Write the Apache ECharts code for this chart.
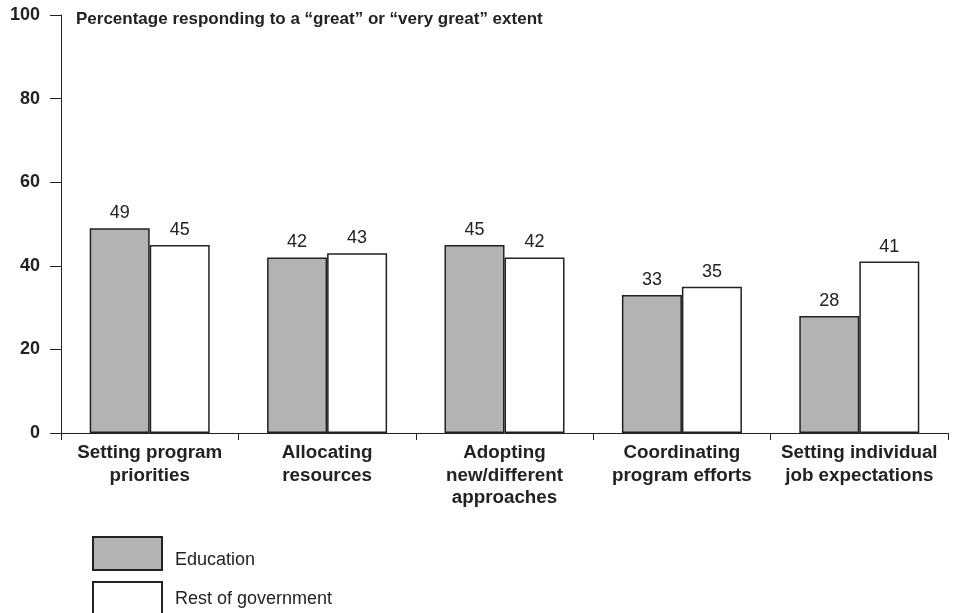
<!DOCTYPE html>
<html><head><meta charset="utf-8">
<script src="https://cdn.jsdelivr.net/npm/echarts@6/dist/echarts.min.js"></script>
<style>html,body{margin:0;padding:0;background:#fff}#c{width:957px;height:613px}</style>
</head><body><div id="c"></div>
<script>
const categories = ['Setting program\npriorities','Allocating\nresources','Adopting\nnew/different\napproaches','Coordinating\nprogram efforts','Setting individual\njob expectations'];
const education = [49, 42, 45, 33, 28];
const restOfGovernment = [45, 43, 42, 35, 41];
const yTicks = [0, 20, 40, 60, 80, 100];
const titleText = 'Percentage responding to a \u201cgreat\u201d or \u201cvery great\u201d extent';

const font = 'Liberation Sans, Arial, Helvetica, sans-serif';
const chart = echarts.init(document.getElementById('c'), null, {renderer:'canvas'});
const legendBase = {left:92,padding:0,itemWidth:69,itemHeight:33,icon:'rect',
  formatter: n => '{t|' + n + '}'};
chart.setOption({
  animation:false,
  title:{text:titleText,left:76,top:11,padding:0,textStyle:{fontFamily:font,fontSize:17,fontWeight:'bold',color:'#222'}},
  legend:[
    Object.assign({},legendBase,{top:536,data:['Education'],
      textStyle:{fontFamily:font,fontSize:18,color:'#222',
        rich:{t:{fontFamily:font,fontSize:18,color:'#222',padding:[13,0,0,8]}}}}),
    Object.assign({},legendBase,{top:581,data:['Rest of government'],
      textStyle:{fontFamily:font,fontSize:18,color:'#222',
        rich:{t:{fontFamily:font,fontSize:18,color:'#222',padding:[1,0,0,8]}}}})
  ],
  grid:{left:61,right:9,top:15,bottom:180,containLabel:false},
  xAxis:{type:'category',data:categories,
    axisLine:{lineStyle:{color:'#222',width:1}},
    axisTick:{show:true,length:7,lineStyle:{color:'#222'}},
    axisLabel:{fontFamily:font,fontSize:18.8,fontWeight:'bold',color:'#222',lineHeight:22.5,margin:9,interval:0}},
  yAxis:{type:'value',min:yTicks[0],max:yTicks[yTicks.length-1],interval:20,
    axisLine:{show:true,lineStyle:{color:'#222'}},
    axisTick:{show:true,length:11,lineStyle:{color:'#222'}},
    splitLine:{show:false},
    axisLabel:{fontFamily:font,fontSize:18,fontWeight:'bold',color:'#222',margin:21}},
  series:[
    {name:'Education',type:'bar',data:education,barWidth:60,barGap:'0%',
      itemStyle:{color:'#b3b3b3',borderColor:'#222',borderWidth:1.5},
      label:{show:true,position:'top',distance:6,fontFamily:font,fontSize:18,color:'#222'}},
    {name:'Rest of government',type:'bar',data:restOfGovernment,barWidth:60,
      itemStyle:{color:'#ffffff',borderColor:'#222',borderWidth:1.5},
      label:{show:true,position:'top',distance:6,fontFamily:font,fontSize:18,color:'#222'}}
  ]
});
</script></body></html>
